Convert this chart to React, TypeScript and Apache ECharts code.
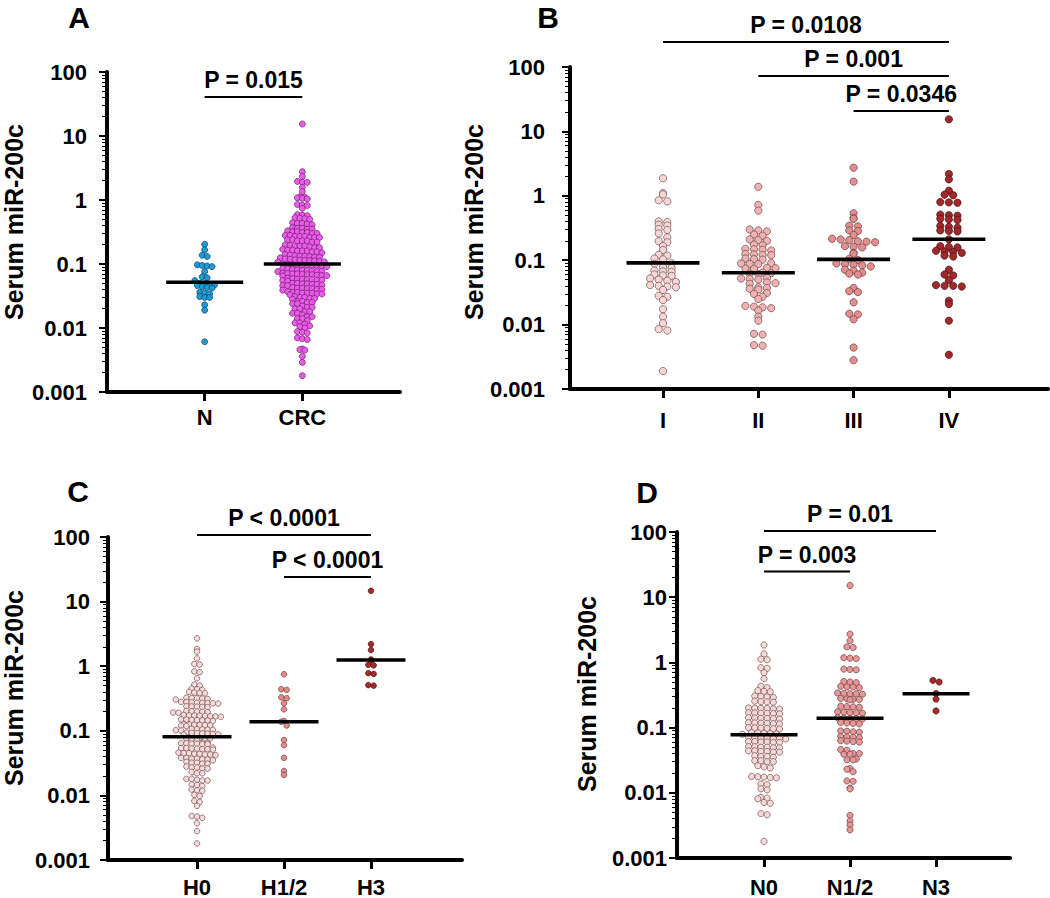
import React, { useEffect, useRef } from 'react';
import * as echarts from 'echarts';

const FONT = '"Liberation Sans", Arial, Helvetica, sans-serif';

// ---------- tick labels ----------
const yTickLabels = ['0.001', '0.01', '0.1', '1', '10', '100'];
const yTitle = 'Serum miR-200c';

// ---------- categories ----------
const catsA = ['N', 'CRC'];
const catsB = ['I', 'II', 'III', 'IV'];
const catsC = ['H0', 'H1/2', 'H3'];
const catsD = ['N0', 'N1/2', 'N3'];

// ---------- panel A values ----------
const valsN = [0.203, 0.166, 0.137, 0.131, 0.097, 0.095, 0.093, 0.091, 0.076, 0.063, 0.061, 0.055, 0.05, 0.049, 0.048, 0.047, 0.046, 0.044, 0.043, 0.042, 0.036, 0.035, 0.034, 0.031, 0.03, 0.03, 0.023, 0.019, 0.0061];
const valsCRC = [15.4, 2.77, 2.32, 1.95, 1.9, 1.88, 1.58, 1.35, 1.12, 1.1, 1.08, 1.06, 1.04, 0.85, 0.83, 0.82, 0.74, 0.59, 0.58, 0.57, 0.53, 0.52, 0.51, 0.5,
  0.44, 0.43, 0.43, 0.42, 0.41, 0.37, 0.36, 0.36, 0.35, 0.35, 0.33, 0.32, 0.32, 0.31, 0.31, 0.3, 0.3,
  0.28, 0.28, 0.27, 0.27, 0.27, 0.26, 0.26, 0.26, 0.24, 0.24, 0.23, 0.23, 0.23, 0.22, 0.22,
  0.2, 0.195, 0.19, 0.19, 0.19, 0.185, 0.18, 0.18, 0.17, 0.165, 0.165, 0.16, 0.16, 0.16, 0.155, 0.155, 0.15,
  0.14, 0.138, 0.135, 0.133, 0.132, 0.13, 0.128, 0.127, 0.125, 0.12, 0.118, 0.116, 0.115, 0.114, 0.113, 0.112, 0.11, 0.108, 0.107,
  0.1, 0.099, 0.098, 0.097, 0.096, 0.095, 0.094, 0.093, 0.092, 0.091, 0.085, 0.084, 0.082, 0.081, 0.08, 0.079, 0.078, 0.078, 0.077, 0.076,
  0.072, 0.071, 0.07, 0.07, 0.069, 0.068, 0.068, 0.067, 0.066, 0.066, 0.065, 0.06, 0.059, 0.058, 0.058, 0.057, 0.057, 0.056, 0.056, 0.055, 0.054,
  0.05, 0.05, 0.049, 0.049, 0.048, 0.048, 0.047, 0.046, 0.046, 0.043, 0.042, 0.042, 0.041, 0.041, 0.04, 0.04, 0.039,
  0.037, 0.036, 0.036, 0.035, 0.035, 0.035, 0.034, 0.034, 0.033, 0.031, 0.03, 0.03, 0.029, 0.029, 0.028,
  0.026, 0.026, 0.025, 0.025, 0.024, 0.024, 0.022, 0.021, 0.021, 0.02, 0.02, 0.018, 0.018, 0.017, 0.017, 0.016,
  0.015, 0.015, 0.014, 0.014, 0.013, 0.012, 0.012, 0.0115, 0.0108, 0.0105, 0.01, 0.0088, 0.0086, 0.0084,
  0.007, 0.0068, 0.0066, 0.0047, 0.0046, 0.0045, 0.0036, 0.0029, 0.0018];
const mediansA = [0.052, 0.1];

// ---------- panel B values ----------
const valsI = [1.87, 1.1, 1.05, 0.85, 0.82, 0.4, 0.39, 0.355, 0.345, 0.305, 0.295, 0.26, 0.226, 0.197, 0.19, 0.166, 0.144, 0.121, 0.118, 0.106, 0.103, 0.09, 0.088, 0.078, 0.076, 0.069, 0.067, 0.066, 0.06, 0.058, 0.057, 0.052, 0.05, 0.048, 0.046, 0.041, 0.04, 0.039, 0.038, 0.0345, 0.028, 0.027, 0.024, 0.0173, 0.0133, 0.0105, 0.0085, 0.0081, 0.0019];
const valsII = [1.38, 0.72, 0.587, 0.3, 0.29, 0.28, 0.25, 0.24, 0.21, 0.205, 0.2, 0.175, 0.17, 0.15, 0.148, 0.145, 0.142, 0.125, 0.123, 0.121, 0.12, 0.106, 0.104, 0.102, 0.09, 0.089, 0.088, 0.087, 0.076, 0.075, 0.074, 0.073, 0.064, 0.063, 0.062, 0.061, 0.053, 0.052, 0.051, 0.05, 0.045, 0.044, 0.043, 0.038, 0.037, 0.036, 0.035, 0.031, 0.03, 0.027, 0.025, 0.0195, 0.019, 0.0185, 0.018, 0.0165, 0.0133, 0.0115, 0.0072, 0.007, 0.0048, 0.0047];
const valsIII = [2.73, 1.66, 0.535, 0.45, 0.44, 0.345, 0.335, 0.29, 0.284, 0.246, 0.215, 0.21, 0.205, 0.196, 0.194, 0.19, 0.165, 0.162, 0.158, 0.13, 0.126, 0.105, 0.101, 0.089, 0.087, 0.085, 0.083, 0.08, 0.071, 0.069, 0.064, 0.062, 0.06, 0.037, 0.033, 0.032, 0.0222, 0.0148, 0.0144, 0.0121, 0.0044, 0.0028];
const valsIV = [15.4, 2.18, 1.8, 1.2, 1.04, 1.02, 0.8, 0.79, 0.78, 0.51, 0.5, 0.49, 0.44, 0.43, 0.42, 0.34, 0.33, 0.32, 0.29, 0.285, 0.28, 0.211, 0.165, 0.16, 0.158, 0.14, 0.137, 0.134, 0.13, 0.118, 0.114, 0.071, 0.06, 0.058, 0.049, 0.041, 0.04, 0.04, 0.039, 0.0234, 0.0209, 0.0115, 0.0034];
const mediansB = [0.091, 0.064, 0.103, 0.211];

// ---------- panel C values ----------
const valsH0 = [2.7, 1.85, 1.68, 1.32, 1.08, 1.06, 0.83, 0.81, 0.65, 0.52, 0.5, 0.45, 0.44, 0.43,
  0.4, 0.39, 0.385, 0.38, 0.325, 0.32, 0.318, 0.315, 0.31, 0.305,
  0.28, 0.278, 0.275, 0.272, 0.27, 0.268, 0.266, 0.264, 0.24, 0.238, 0.236, 0.234, 0.232,
  0.203, 0.2, 0.198, 0.196, 0.194, 0.192, 0.19, 0.175, 0.173, 0.172, 0.171, 0.17, 0.168, 0.167, 0.165,
  0.15, 0.149, 0.147, 0.146, 0.145, 0.144, 0.142, 0.126, 0.125, 0.124, 0.123, 0.122, 0.121, 0.12, 0.119,
  0.107, 0.106, 0.105, 0.104, 0.103, 0.102, 0.101, 0.094, 0.093, 0.092, 0.091, 0.09, 0.089, 0.088, 0.087,
  0.078, 0.077, 0.077, 0.076, 0.076, 0.075, 0.075, 0.074, 0.065, 0.065, 0.064, 0.064, 0.063, 0.063, 0.062, 0.062,
  0.055, 0.054, 0.054, 0.053, 0.053, 0.052, 0.052, 0.051, 0.046, 0.045, 0.045, 0.044, 0.044, 0.043, 0.043, 0.042,
  0.038, 0.038, 0.037, 0.037, 0.036, 0.036, 0.035, 0.033, 0.032, 0.032, 0.031, 0.031,
  0.028, 0.027, 0.027, 0.026, 0.026, 0.023, 0.022, 0.022, 0.018, 0.018, 0.0175, 0.017, 0.017,
  0.0148, 0.0145, 0.014, 0.0123, 0.012, 0.0118, 0.0102, 0.0098, 0.0082, 0.0079, 0.0069,
  0.0048, 0.0047, 0.0045, 0.0037, 0.0028, 0.0018];
const valsH12 = [0.75, 0.44, 0.43, 0.33, 0.32, 0.267, 0.215, 0.142, 0.138, 0.121, 0.072, 0.06, 0.038, 0.0239, 0.0207];
const valsH3 = [14.7, 2.2, 1.78, 1.27, 1.24, 1.05, 1.03, 0.78, 0.76, 0.51, 0.5];
const mediansC = [0.081, 0.138, 1.25];

// ---------- panel D values ----------
const valsN0 = [1.85, 1.35, 1.12, 1.1, 0.83, 0.81, 0.695, 0.563, 0.43, 0.41, 0.37, 0.36, 0.355,
  0.305, 0.3, 0.295, 0.29, 0.255, 0.25, 0.248, 0.245, 0.2, 0.199, 0.197, 0.196, 0.194, 0.192,
  0.169, 0.168, 0.166, 0.165, 0.164, 0.162, 0.142, 0.141, 0.139, 0.138, 0.137, 0.135,
  0.119, 0.118, 0.117, 0.116, 0.115, 0.114, 0.1, 0.099, 0.098, 0.097, 0.096, 0.095,
  0.084, 0.083, 0.082, 0.081, 0.08, 0.079, 0.071, 0.07, 0.07, 0.069, 0.068, 0.068, 0.067,
  0.061, 0.061, 0.06, 0.06, 0.059, 0.059, 0.051, 0.051, 0.05, 0.05, 0.049, 0.049,
  0.044, 0.044, 0.043, 0.043, 0.042, 0.042, 0.037, 0.036, 0.036, 0.035, 0.031, 0.031, 0.03, 0.03,
  0.026, 0.025, 0.024, 0.0178, 0.0176, 0.0174, 0.0172, 0.017, 0.0137, 0.0133, 0.0115, 0.0111,
  0.0085, 0.0083, 0.0081, 0.0071, 0.0069, 0.0048, 0.0046, 0.0018];
const valsN12 = [15.1, 2.72, 2.15, 1.73, 1.69, 1.18, 1.16, 1.14, 0.79, 0.78, 0.77,
  0.51, 0.5, 0.49, 0.43, 0.42, 0.42, 0.41, 0.34, 0.335, 0.33, 0.33, 0.325,
  0.28, 0.275, 0.272, 0.27, 0.268, 0.213, 0.21, 0.208, 0.205, 0.175, 0.172, 0.17, 0.168, 0.166,
  0.142, 0.14, 0.138, 0.137, 0.135, 0.12, 0.118, 0.116, 0.114, 0.089, 0.088, 0.086, 0.085,
  0.073, 0.072, 0.071, 0.07, 0.063, 0.062, 0.061, 0.06, 0.046, 0.045, 0.04, 0.04, 0.039, 0.039,
  0.033, 0.032, 0.032, 0.0235, 0.023, 0.021, 0.0152, 0.015, 0.0118, 0.0115, 0.0045, 0.0037, 0.0032, 0.0027];
const valsN3 = [0.53, 0.5, 0.333, 0.273, 0.18];
const mediansD = [0.0775, 0.139, 0.33];

// ---------- significance brackets (category from/to, height in data units) ----------
const bracketsA = [{ from: 1, to: 2, y: 40.7, text: 'P = 0.015' }];
const bracketsB = [
  { from: 1, to: 4, y: 244, text: 'P = 0.0108' },
  { from: 2, to: 4, y: 72.4, text: 'P = 0.001' },
  { from: 3, to: 4, y: 20.7, text: 'P = 0.0346' },
];
const bracketsC = [
  { from: 1, to: 3, y: 107, text: 'P < 0.0001' },
  { from: 2, to: 3, y: 24, text: 'P < 0.0001' },
];
const bracketsD = [
  { from: 1, to: 3, y: 103.5, text: 'P = 0.01' },
  { from: 1, to: 2, y: 24.7, text: 'P = 0.003' },
];

type Panel = {
  letter: string; letterPos: [number, number]; titlePos: [number, number];
  grid: { left: number; top: number; width: number; height: number };
  xMin: number; xMax: number; yLabelMargin: number; xLabelMargin: number;
  cats: string[]; groups: number[][]; colors: string[]; borders: string[];
  size: number; rowH: number; colW: number; medians: number[]; medianW: number;
  brackets: { from: number; to: number; y: number; text: string }[];
};

const panels: Panel[] = [
  {
    letter: 'A', letterPos: [79, 17], titlePos: [14, 222],
    grid: { left: 107, top: 72, width: 293, height: 320 }, xMin: 0, xMax: 3, yLabelMargin: 20, xLabelMargin: 14,
    cats: catsA, groups: [valsN, valsCRC], colors: ['#1c9bd8', '#ea5be9'], borders: ['#0d3b57', '#6a1d6a'],
    size: 6, rowH: 4.6, colW: 4.9, medians: mediansA, medianW: 77, brackets: bracketsA,
  },
  {
    letter: 'B', letterPos: [548, 17], titlePos: [474, 222],
    grid: { left: 570, top: 67, width: 478, height: 322 }, xMin: 0.024, xMax: 5.04, yLabelMargin: 25, xLabelMargin: 20,
    cats: catsB, groups: [valsI, valsII, valsIII, valsIV], colors: ['#f9d6d6', '#efb1b1', '#e28e8e', '#a2282b'],
    borders: ['#6a5050', '#6a4a4a', '#6a3c3c', '#4a1010'],
    size: 7.3, rowH: 5, colW: 8.6, medians: mediansB, medianW: 73, brackets: bracketsB,
  },
  {
    letter: 'C', letterPos: [78, 491], titlePos: [14, 688],
    grid: { left: 108, top: 537, width: 354, height: 323 }, xMin: -0.023, xMax: 4.046, yLabelMargin: 18, xLabelMargin: 16,
    cats: catsC, groups: [valsH0, valsH12, valsH3], colors: ['#fadada', '#e38a8a', '#a52a2a'],
    borders: ['#6a5050', '#6a3c3c', '#4a1010'],
    size: 5.6, rowH: 4.4, colW: 5.3, medians: mediansC, medianW: 69, brackets: bracketsC,
  },
  {
    letter: 'D', letterPos: [647, 492], titlePos: [587, 694],
    grid: { left: 677, top: 532, width: 333, height: 329 }, xMin: -0.012, xMax: 3.86, yLabelMargin: 10, xLabelMargin: 18,
    cats: catsD, groups: [valsN0, valsN12, valsN3], colors: ['#f9d8d8', '#e69797', '#a52a2a'],
    borders: ['#6a5050', '#6a3c3c', '#4a1010'],
    size: 6.2, rowH: 5, colW: 6.2, medians: mediansD, medianW: 67, brackets: bracketsD,
  },
];

// Prism-style scatter layout: points binned into pixel rows, spread symmetrically in each row
function rowLayout(values: number[], pxPerDec: number, rowH: number, colW: number): number[] {
  const rows = new Map<number, number[]>();
  values.forEach((v, i) => {
    const r = Math.round((Math.log10(v) * pxPerDec) / rowH);
    if (!rows.has(r)) rows.set(r, []);
    rows.get(r)!.push(i);
  });
  const out: number[] = new Array(values.length).fill(0);
  rows.forEach((idx) => {
    idx.sort((a, b) => values[b] - values[a]);
    const n = idx.length;
    idx.forEach((id, j) => { out[id] = (j - (n - 1) / 2) * colW; });
  });
  return out;
}

const minorTickValues: number[] = [];
for (let e = -3; e <= 1; e++) {
  for (let m = 2; m <= 9; m++) minorTickValues.push(Number((m * Math.pow(10, e)).toPrecision(3)));
}

const labelStyle = { color: '#000', fontWeight: 'bold' as const, fontFamily: FONT, fontSize: 22 };

function buildOption() {
  const grids: any[] = [];
  const xAxes: any[] = [];
  const yAxes: any[] = [];
  const minorAxes: any[] = [];
  const series: any[] = [];
  const medianSeriesIdx: number[] = [];
  panels.forEach((p, g) => {
    grids.push({ ...p.grid, containLabel: false });
    const ticks = p.cats.map((_, i) => i + 1);
    xAxes.push({
      gridIndex: g, type: 'value', min: p.xMin, max: p.xMax,
      axisLine: { onZero: false, lineStyle: { color: '#000', width: 4 } },
      axisTick: { customValues: ticks, length: 9, lineStyle: { color: '#000', width: 3 } },
      axisLabel: { customValues: ticks, formatter: (v: number) => p.cats[Math.round(v) - 1] ?? '', margin: p.xLabelMargin, ...labelStyle },
      splitLine: { show: false },
    });
    yAxes.push({
      gridIndex: g, type: 'log', logBase: 10, min: 0.001, max: 100, splitNumber: 5, position: 'left',
      axisLine: { onZero: false, lineStyle: { color: '#000', width: 4 } },
      axisTick: { length: 8, lineStyle: { color: '#000', width: 2 } },
      axisLabel: {
        formatter: (v: number) => yTickLabels[Math.round(Math.log10(v)) + 3] ?? '',
        margin: p.yLabelMargin, ...labelStyle,
      },
      splitLine: { show: false },
    });
    minorAxes.push({
      gridIndex: g, type: 'log', logBase: 10, min: 0.001, max: 100, position: 'left', offset: 0,
      axisLine: { show: false, onZero: false },
      axisTick: { customValues: minorTickValues, length: 5, lineStyle: { color: '#000', width: 1 } },
      axisLabel: { show: false },
      splitLine: { show: false },
    });
    const unitPx = p.grid.width / (p.xMax - p.xMin);
    const pxPerDec = p.grid.height / 5;
    p.groups.forEach((vals, k) => {
      const off = rowLayout(vals, pxPerDec, p.rowH, p.colW);
      series.push({
        type: 'scatter', xAxisIndex: g, yAxisIndex: g, symbol: 'circle', symbolSize: p.size,
        data: vals.map((v, i) => [k + 1 + off[i] / unitPx, v]),
        itemStyle: { color: p.colors[k], borderColor: p.borders[k], borderWidth: 0.7, opacity: 1 },
        silent: true, z: 2,
      });
    });
    medianSeriesIdx.push(series.length);
    series.push({
      type: 'scatter', xAxisIndex: g, yAxisIndex: g, symbol: 'rect', symbolSize: [p.medianW, 3.6],
      data: p.medians.map((m, k) => [k + 1, m]),
      itemStyle: { color: '#000', opacity: 1 }, silent: true, z: 5,
    });
  });
  return {
    option: {
      animation: false,
      backgroundColor: '#fff',
      grid: grids,
      xAxis: xAxes,
      yAxis: [...yAxes, ...minorAxes],
      series,
    },
    medianSeriesIdx,
  };
}

export default function App() {
  const ref = useRef<HTMLDivElement>(null);
  useEffect(() => {
    if (!ref.current) return;
    const chart = echarts.init(ref.current, null, { renderer: 'svg' });
    const { option, medianSeriesIdx } = buildOption();
    chart.setOption(option as any);
    const graphics: any[] = [];
    panels.forEach((p, g) => {
      graphics.push({
        type: 'text', x: p.letterPos[0], y: p.letterPos[1],
        style: { text: p.letter, fill: '#000', fontSize: 30, fontWeight: 'bold', fontFamily: FONT, align: 'center', verticalAlign: 'middle' },
      });
      graphics.push({
        type: 'text', x: p.titlePos[0], y: p.titlePos[1], rotation: Math.PI / 2,
        style: { text: yTitle, fill: '#000', fontSize: 25, fontWeight: 'bold', fontFamily: FONT, align: 'center', verticalAlign: 'middle' },
      });
      p.brackets.forEach((b) => {
        const a = chart.convertToPixel({ seriesIndex: medianSeriesIdx[g] }, [b.from, b.y]) as number[];
        const c = chart.convertToPixel({ seriesIndex: medianSeriesIdx[g] }, [b.to, b.y]) as number[];
        if (!a || !c) return;
        graphics.push({
          type: 'line', shape: { x1: a[0], y1: a[1], x2: c[0], y2: c[1] },
          style: { stroke: '#000', lineWidth: 2 },
        });
        graphics.push({
          type: 'text', x: (a[0] + c[0]) / 2, y: a[1] - 17,
          style: { text: b.text, fill: '#000', fontSize: 23, fontWeight: 'bold', fontFamily: FONT, align: 'center', verticalAlign: 'middle' },
        });
      });
    });
    chart.setOption({ graphic: graphics });
    return () => chart.dispose();
  }, []);
  return <div ref={ref} style={{ position: 'absolute', left: 0, top: 0, width: 1050, height: 898 }} />;
}
